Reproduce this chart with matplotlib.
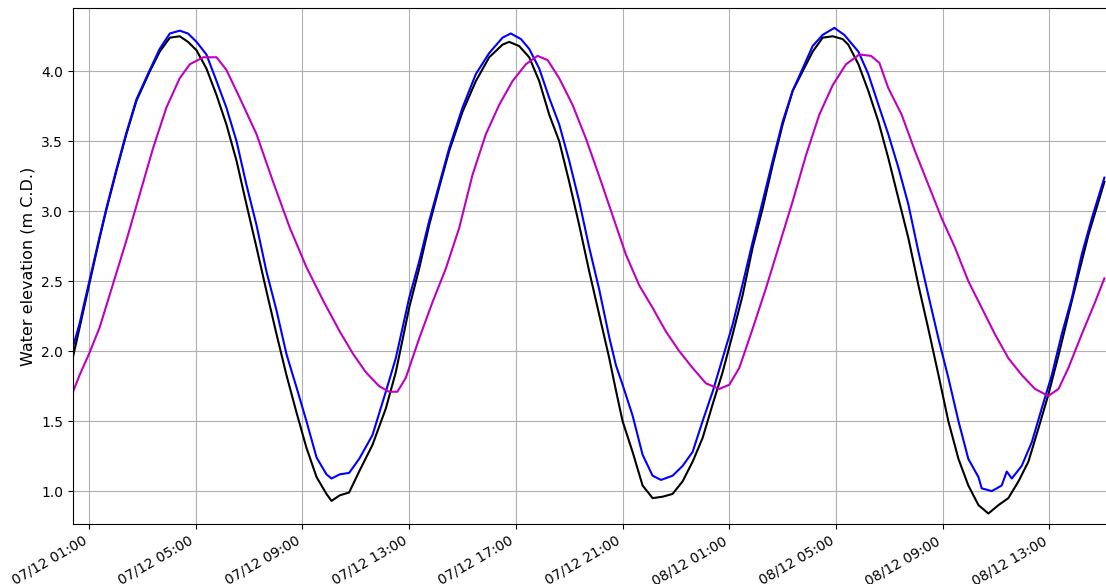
import pandas as pd
import matplotlib
matplotlib.use("Agg")
import matplotlib.pyplot as plt
import matplotlib.dates as mdates

# hours after 07/12 00:00, values in m C.D.
black_hours = [0.4, 0.65, 1.0, 1.4, 1.65, 2.03, 2.4, 2.78, 3.28, 3.65, 4.03, 4.4, 4.71,
               5.03, 5.4, 5.78, 6.15, 6.53, 6.9, 7.28, 7.65, 8.03, 8.4, 8.78, 9.15, 9.53,
               9.9, 10.09, 10.4, 10.75, 11.125, 11.625, 12.125, 12.5, 13.0, 13.375, 13.75,
               14.125, 14.5, 15.0, 15.5, 16.0, 16.5, 16.75, 17.125, 17.5, 17.875, 18.25,
               18.625, 19.0, 19.375, 19.75, 20.125, 20.5, 20.75, 21.0, 21.375, 21.75,
               22.125, 22.5, 22.875, 23.25, 23.625, 24.0, 24.375, 24.75, 25.125, 25.5,
               25.875, 26.25, 26.625, 27.0, 27.375, 27.75, 28.125, 28.5, 28.875, 29.25,
               29.46, 29.84, 30.21, 30.59, 30.96, 31.34, 31.71, 32.09, 32.46, 32.84, 33.21,
               33.59, 33.96, 34.34, 34.71, 35.09, 35.46, 35.84, 36.21, 36.59, 36.96, 37.34,
               37.71, 38.09, 38.46, 38.84, 39.06]
black_level = [1.96, 2.17, 2.47, 2.81, 3.01, 3.29, 3.55, 3.79, 4.0, 4.14, 4.24, 4.25, 4.21,
               4.15, 4.02, 3.83, 3.62, 3.36, 3.05, 2.74, 2.43, 2.12, 1.83, 1.56, 1.31, 1.10,
               0.98, 0.93, 0.97, 0.99, 1.14, 1.33, 1.59, 1.85, 2.31, 2.59, 2.90, 3.17, 3.43,
               3.71, 3.93, 4.10, 4.19, 4.21, 4.18, 4.10, 3.93, 3.69, 3.50, 3.21, 2.90, 2.57,
               2.26, 1.95, 1.72, 1.50, 1.28, 1.04, 0.95, 0.96, 0.98, 1.07, 1.21, 1.38, 1.62,
               1.85, 2.12, 2.40, 2.74, 3.02, 3.33, 3.62, 3.86, 4.0, 4.14, 4.24, 4.25, 4.23,
               4.19, 4.05, 3.86, 3.64, 3.38, 3.09, 2.81, 2.47, 2.16, 1.83, 1.50, 1.23, 1.04,
               0.90, 0.84, 0.90, 0.95, 1.07, 1.21, 1.45, 1.69, 1.97, 2.26, 2.55, 2.83, 3.07,
               3.21]

blue_hours = [0.4, 0.65, 1.0, 1.4, 1.65, 2.03, 2.4, 2.78, 3.28, 3.65, 4.03, 4.4, 4.71,
              5.03, 5.4, 5.78, 6.15, 6.53, 6.9, 7.28, 7.65, 8.03, 8.4, 8.78, 9.15, 9.53,
              9.9, 10.09, 10.4, 10.75, 11.125, 11.625, 12.125, 12.5, 13.0, 13.375, 13.75,
              14.125, 14.5, 15.0, 15.5, 16.0, 16.5, 16.81, 17.19, 17.5, 17.875, 18.25,
              18.625, 19.0, 19.375, 19.75, 20.125, 20.5, 20.75, 21.0, 21.375, 21.75,
              22.125, 22.44, 22.875, 23.25, 23.625, 24.0, 24.375, 24.75, 25.125, 25.5,
              25.875, 26.25, 26.625, 27.0, 27.375, 27.75, 28.125, 28.5, 28.94, 29.31,
              29.84, 30.21, 30.59, 30.96, 31.34, 31.71, 32.09, 32.46, 32.84, 33.21, 33.59,
              33.96, 34.34, 34.46, 34.84, 35.21, 35.4, 35.59, 35.96, 36.34, 36.71, 37.09,
              37.46, 37.84, 38.21, 38.59, 39.06]
blue_level = [2.03, 2.20, 2.49, 2.82, 3.02, 3.30, 3.56, 3.80, 4.01, 4.16, 4.27, 4.29, 4.27,
              4.21, 4.12, 3.93, 3.74, 3.50, 3.19, 2.90, 2.57, 2.29, 1.98, 1.74, 1.50, 1.24,
              1.12, 1.09, 1.12, 1.13, 1.23, 1.40, 1.71, 1.95, 2.38, 2.64, 2.93, 3.19, 3.45,
              3.74, 3.98, 4.13, 4.24, 4.27, 4.23, 4.16, 4.02, 3.81, 3.62, 3.36, 3.07, 2.74,
              2.44, 2.10, 1.90, 1.76, 1.54, 1.26, 1.11, 1.08, 1.11, 1.18, 1.28, 1.50, 1.71,
              1.95, 2.19, 2.48, 2.78, 3.07, 3.36, 3.64, 3.86, 4.02, 4.18, 4.26, 4.31, 4.26,
              4.14, 3.98, 3.76, 3.55, 3.31, 3.05, 2.71, 2.40, 2.09, 1.81, 1.50, 1.23, 1.10,
              1.02, 1.00, 1.04, 1.14, 1.09, 1.18, 1.35, 1.59, 1.83, 2.12, 2.38, 2.69, 2.95,
              3.24]

magenta_hours = [0.4, 0.65, 1.0, 1.4, 1.9, 2.4, 2.9, 3.4, 3.9, 4.4, 4.78, 5.28, 5.78, 6.15,
                 6.65, 7.28, 7.9, 8.53, 9.15, 9.78, 10.4, 10.9, 11.375, 11.875, 12.25,
                 12.56, 12.875, 13.375, 13.875, 14.375, 14.875, 15.375, 15.875, 16.375,
                 16.875, 17.375, 17.81, 18.19, 18.625, 19.125, 19.625, 20.125, 20.625,
                 21.125, 21.625, 22.125, 22.625, 23.125, 23.625, 24.125, 24.625, 25.0,
                 25.375, 25.875, 26.375, 26.875, 27.375, 27.875, 28.375, 28.875, 29.375,
                 29.875, 30.31, 30.625, 30.96, 31.46, 31.96, 32.46, 32.96, 33.46, 33.96,
                 34.46, 34.96, 35.46, 35.96, 36.46, 36.96, 37.34, 37.71, 38.21, 38.71, 39.06]
magenta_level = [1.71, 1.83, 1.98, 2.17, 2.48, 2.79, 3.12, 3.45, 3.74, 3.95, 4.05, 4.10,
                 4.10, 4.01, 3.81, 3.55, 3.21, 2.88, 2.60, 2.36, 2.14, 1.98, 1.85, 1.75,
                 1.71, 1.71, 1.81, 2.09, 2.35, 2.59, 2.88, 3.26, 3.55, 3.76, 3.93, 4.05,
                 4.11, 4.08, 3.95, 3.76, 3.52, 3.25, 2.97, 2.69, 2.47, 2.31, 2.14, 2.00,
                 1.88, 1.77, 1.73, 1.76, 1.88, 2.16, 2.45, 2.76, 3.07, 3.40, 3.69, 3.90,
                 4.05, 4.12, 4.11, 4.06, 3.88, 3.69, 3.43, 3.19, 2.95, 2.74, 2.50, 2.31,
                 2.12, 1.95, 1.83, 1.73, 1.68, 1.73, 1.88, 2.12, 2.35, 2.52]

start = pd.Timestamp("2020-12-07 00:00")


def to_times(hours):
    return start + pd.to_timedelta(hours, unit="h")


fig = plt.figure(figsize=(11.06, 5.84), dpi=100)
ax = fig.add_axes([73 / 1106, 60 / 584, 1037 / 1106, 516 / 584])

ax.plot(to_times(black_hours), black_level, color="k", linewidth=1.5)
ax.plot(to_times(blue_hours), blue_level, color="b", linewidth=1.5)
ax.plot(to_times(magenta_hours), magenta_level, color="m", linewidth=1.5)

ax.set_xlim(start + pd.Timedelta(hours=0.4), start + pd.Timedelta(hours=39.27))
ax.set_ylim(0.765, 4.452)
ax.set_yticks([1.0, 1.5, 2.0, 2.5, 3.0, 3.5, 4.0])

ax.xaxis.set_major_locator(mdates.HourLocator(byhour=[1, 5, 9, 13, 17, 21]))
ax.xaxis.set_major_formatter(mdates.DateFormatter("%d/%m %H:%M"))
for lbl in ax.get_xticklabels():
    lbl.set_rotation(30)
    lbl.set_ha("right")

ax.tick_params(labelsize=10)
ax.set_ylabel("Water elevation (m C.D.)", fontsize=11.5)
ax.grid(True)

fig.savefig("out.png", dpi=100)
